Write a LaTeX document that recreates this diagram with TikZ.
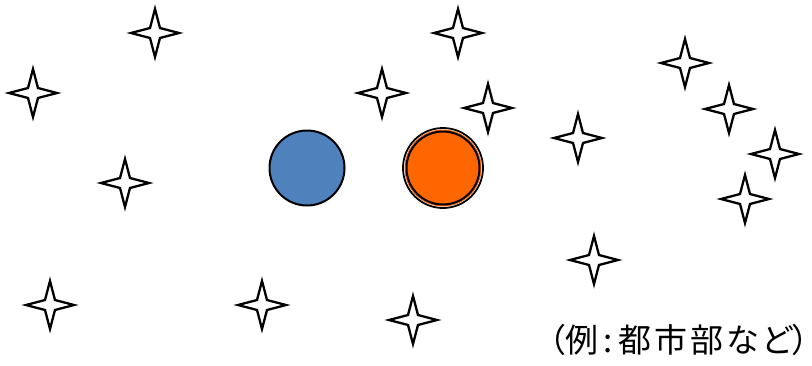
\documentclass[tikz,border=0pt]{standalone}
\usepackage{fontspec}
\newfontfamily\cjk[RawFeature=+palt]{Noto Sans CJK JP}
\usetikzlibrary{shapes.geometric}

\definecolor{popblue}{RGB}{79,129,189}
\definecolor{hotorange}{RGB}{255,102,0}

\begin{document}
\begin{tikzpicture}[x=1pt, y=-1pt,
        % four-pointed stars scattered around
        spark/.style={star, star points=4, star point ratio=3.4,
        minimum size=48pt, inner sep=0pt, draw, line width=2.3pt, fill=white},
        % the two discs in the middle
        disc/.style={circle, inner sep=0pt, line width=2pt},
        labeltext/.style={font=\cjk\fontsize{33}{38}\selectfont, inner sep=0pt}
    ]
    \useasboundingbox (0,0) rectangle (812,365);

    % --- Stars ---
    \foreach \px/\py [count=\i] in {155/33, 33/93, 125/183, 50/305, 262/305,
            413/320, 382/93, 458/33, 488/108, 578/138, 594/260,
            685/63, 729/109, 775/154, 745/199}
        \node[spark] (s\i) at (\px,\py) {};

    % --- Blue disc ---
    \node[disc, draw, fill=popblue, minimum size=75pt] (blue) at (307,168) {};

    % --- Orange disc with double ring ---
    \node[disc, draw, line width=1.8pt, fill=white, minimum size=80pt] (ring) at (443,168) {};
    \node[disc, fill=hotorange, minimum size=77pt] (ringfill) at (ring.center) {};
    \node[disc, draw, fill=hotorange, minimum size=73pt] (orange) at (ring.center) {};

    % --- Note ---
    \node[labeltext, anchor=east] (note) at (809,340)
        {（例\,:\,都\kern3pt 市\kern3pt 部\kern3pt な\kern3pt ど）};
\end{tikzpicture}
\end{document}
